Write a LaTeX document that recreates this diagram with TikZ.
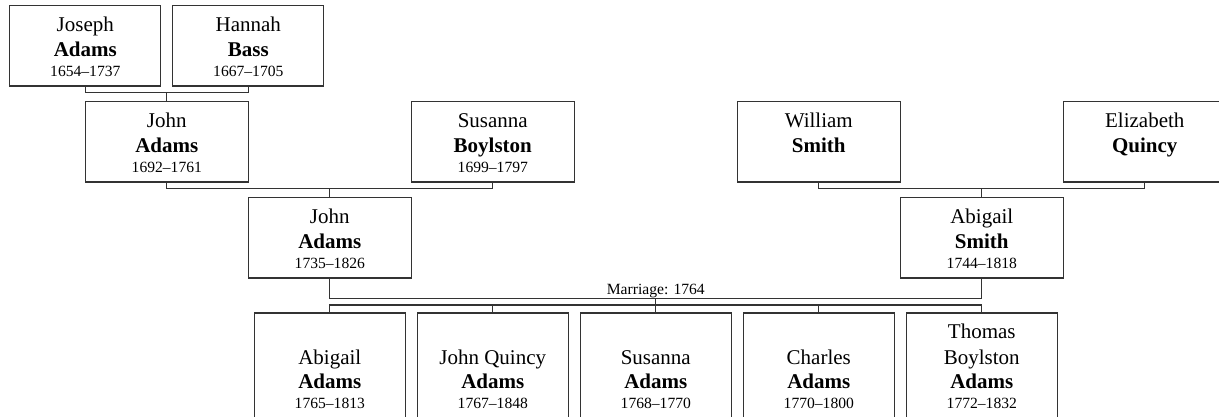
\documentclass[tikz,border=0pt]{standalone}
\usepackage{fontspec}
\setmainfont{Liberation Serif}
\usetikzlibrary{calc}
\newcommand{\card}[3]{\parbox[t][#1][t]{#2}{\offinterlineskip #3}}
\newcommand{\pname}[2]{\kern#1\hbox to\hsize{\hss\smash{\fontsize{21}{25}\selectfont #2}\hss}}
\newcommand{\pbold}[2]{\kern#1\hbox to\hsize{\hss\smash{\fontsize{21}{25}\selectfont\bfseries #2}\hss}}
\newcommand{\pdates}[2]{\kern#1\hbox to\hsize{\hss\smash{\fontsize{15.6}{18}\selectfont #2}\hss}}
\tikzset{
  box/.style={draw=black!80, line width=1.3pt, inner sep=0pt, anchor=north, fill=white},
  link/.style={draw=black!80, line width=1.3pt},
  marlabel/.style={anchor=base, yshift=4pt, inner sep=0pt, font=\fontsize{15.6}{18}\selectfont}
}
\begin{document}
\begin{tikzpicture}[x=1pt, y=-1pt]
\useasboundingbox (0,0) rectangle (1219,416);
% generation 1
\node[box] (ja) at (85.3,4.5) {\card{80.7pt}{151pt}{\pname{26.5pt}{Joseph}\pbold{25pt}{Adams}\pdates{20pt}{1654--1737}}};
\node[box] (hb) at (248.3,4.5) {\card{80.7pt}{151pt}{\pname{26.5pt}{Hannah}\pbold{25pt}{Bass}\pdates{20pt}{1667--1705}}};
% generation 2
\node[box] (j1) at (166.8,100.6) {\card{80.7pt}{163pt}{\pname{26.5pt}{John}\pbold{25pt}{Adams}\pdates{20pt}{1692--1761}}};
\node[box] (sb) at (492.8,100.6) {\card{80.7pt}{163pt}{\pname{26.5pt}{Susanna}\pbold{25pt}{Boylston}\pdates{20pt}{1699--1797}}};
\node[box] (ws) at (818.8,100.6) {\card{80.7pt}{163pt}{\pname{26.5pt}{William}\pbold{25pt}{Smith}}};
\node[box] (eq) at (1144.8,100.6) {\card{80.7pt}{163pt}{\pname{26.5pt}{Elizabeth}\pbold{25pt}{Quincy}}};
% generation 3
\node[box] (j2) at (329.8,196.5) {\card{80.7pt}{163pt}{\pname{26.5pt}{John}\pbold{25pt}{Adams}\pdates{20pt}{1735--1826}}};
\node[box] (as) at (981.8,196.5) {\card{80.7pt}{163pt}{\pname{26.5pt}{Abigail}\pbold{25pt}{Smith}\pdates{20pt}{1744--1818}}};
% children
\node[box] (c1) at (329.8,312.3) {\card{110pt}{151pt}{\pname{51.5pt}{Abigail}\pbold{24pt}{Adams}\pdates{20pt}{1765--1813}}};
\node[box] (c2) at (492.8,312.3) {\card{110pt}{151pt}{\pname{51.5pt}{John Quincy}\pbold{24pt}{Adams}\pdates{20pt}{1767--1848}}};
\node[box] (c3) at (655.8,312.3) {\card{110pt}{151pt}{\pname{51.5pt}{Susanna}\pbold{24pt}{Adams}\pdates{20pt}{1768--1770}}};
\node[box] (c4) at (818.8,312.3) {\card{110pt}{151pt}{\pname{51.5pt}{Charles}\pbold{24pt}{Adams}\pdates{20pt}{1770--1800}}};
\node[box] (c5) at (981.8,312.3) {\card{110pt}{151pt}{\pname{26pt}{Thomas}\pname{25.5pt}{Boylston}\pbold{24pt}{Adams}\pdates{20pt}{1772--1832}}};
% parent links
\coordinate (b1) at ($(j1.north)+(0,-7.9)$);
\draw[link] (ja.south) |- (b1) -| (hb.south);
\draw[link] (b1) -- (j1.north);
\coordinate (b2) at ($(j2.north)+(0,-7.9)$);
\draw[link] (j1.south) |- (b2) -| (sb.south);
\draw[link] (b2) -- (j2.north);
\coordinate (b3) at ($(as.north)+(0,-7.9)$);
\draw[link] (ws.south) |- (b3) -| (eq.south);
\draw[link] (b3) -- (as.north);
% marriage
\draw[link] (j2.south) -- ++(0,20) -| (as.south)
  node[pos=0.25, marlabel] (ml) {Marriage: 1764}
  coordinate[pos=0.25] (mm);
\coordinate (cb) at ($(c3.north)+(0,-7.3)$);
\draw[link] (c1.north) -- (c1.north |- cb) -- (c5.north |- cb) -- (c5.north);
\draw[link] (c2.north) -- (c2.north |- cb);
\draw[link] (c4.north) -- (c4.north |- cb);
\draw[link] (mm) -- (c3.north);
\end{tikzpicture}
\end{document}
